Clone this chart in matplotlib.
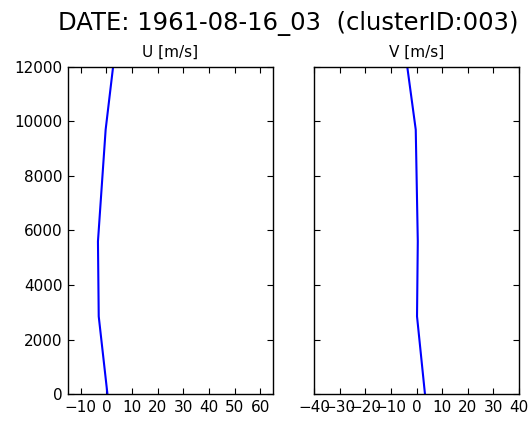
import numpy as np
import matplotlib.pyplot as plt

# sounding profile (height in m, wind components in m/s)
height = [0, 2850, 5600, 9700, 12000]
u_wind = [0.4, -3.0, -3.3, -0.3, 2.6]
v_wind = [3.3, 0.2, 0.5, -0.3, -3.6]

date_str = '1961-08-16_03'
cluster_id = '003'

plt.rcParams['xtick.direction'] = 'in'
plt.rcParams['ytick.direction'] = 'in'
plt.rcParams['xtick.top'] = True
plt.rcParams['ytick.right'] = True
plt.rcParams['xtick.major.size'] = 4
plt.rcParams['ytick.major.size'] = 4
plt.rcParams['axes.linewidth'] = 1.0

fig = plt.figure(figsize=(5.29, 4.21), dpi=100)
ax1 = fig.add_axes([0.1285, 0.064, 0.3875, 0.777])
ax2 = fig.add_axes([0.5936, 0.064, 0.3875, 0.777])

ax1.plot(u_wind, height, color='b', linewidth=1.5)
ax1.set_xlim(-15, 65)
ax1.set_xticks(np.arange(-10, 61, 10))
ax1.set_ylim(0, 12000)
ax1.set_yticks(np.arange(0, 12001, 2000))
ax1.set_title('U [m/s]', fontsize=11, pad=7)

ax2.plot(v_wind, height, color='b', linewidth=1.5)
ax2.set_xlim(-40, 40)
ax2.set_xticks(np.arange(-40, 41, 10))
ax2.set_ylim(0, 12000)
ax2.set_yticks(np.arange(0, 12001, 2000))
ax2.set_yticklabels([])
ax2.set_title('V [m/s]', fontsize=11, pad=7)

for ax in (ax1, ax2):
    ax.tick_params(labelsize=11, pad=4)

fig.suptitle('DATE: %s  (clusterID:%s)' % (date_str, cluster_id), fontsize=17.5, x=0.545, y=0.975)

fig.savefig('out.png', dpi=100)
